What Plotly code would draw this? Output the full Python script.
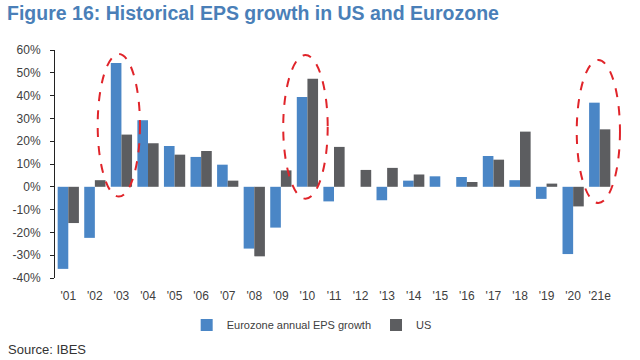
import plotly.graph_objects as go

years = ["'01", "'02", "'03", "'04", "'05", "'06", "'07", "'08", "'09", "'10", "'11",
         "'12", "'13", "'14", "'15", "'16", "'17", "'18", "'19", "'20", "'21e"]
eurozone = [-36, -22.4, 54.3, 29.2, 17.9, 13.1, 9.7, -27.1, -17.9, 39.4, -6.4,
            0, -5.9, 2.7, 4.6, 4.3, 13.5, 2.9, -5.3, -29.5, 36.9]
us = [-15.9, 2.9, 22.9, 19.1, 14.1, 15.7, 2.7, -30.5, 7.2, 47.4, 17.5,
      7.4, 8.3, 5.4, 0, 2.1, 11.9, 24.2, 1.4, -8.6, 25.2]
y_ticks = [-40, -30, -20, -10, 0, 10, 20, 30, 40, 50, 60]

idx = list(range(len(years)))

fig = go.Figure()
fig.add_trace(go.Bar(x=idx, y=eurozone, name="Eurozone annual EPS growth",
                     marker=dict(color="#4a86c6", line=dict(width=0))))
fig.add_trace(go.Bar(x=idx, y=us, name="US",
                     marker=dict(color="#5c5d60", line=dict(width=0))))

y_font = dict(family="Liberation Sans, Arial", size=12, color="#404040")
x_font = dict(family="Liberation Sans Narrow, Arial Narrow, Arial", size=12, color="#404040")

fig.update_layout(
    width=640, height=360,
    margin=dict(l=55, r=27, t=50, b=82),
    paper_bgcolor="white", plot_bgcolor="white",
    barmode="group", bargap=0.2, bargroupgap=0,
    title=dict(text="<b>Figure 16: Historical EPS growth in US and Eurozone</b>",
               x=0.011, xanchor="left", xref="container",
               y=0.982, yanchor="top", yref="container",
               font=dict(family="Liberation Sans, Arial", size=19.5, color="#4a7fb8")),
    xaxis=dict(range=[-0.5, len(years) - 0.5], tickmode="array", tickvals=idx, ticktext=years,
               showgrid=False, zeroline=False, showline=False, ticks="",
               ticklabelstandoff=9, tickfont=x_font),
    xaxis2=dict(overlaying="x", anchor="free", position=0.4,
                range=[-0.5, len(years) - 0.5], tickmode="array",
                tickvals=[i + 0.5 for i in idx[:-1]] + [len(years) - 0.5],
                showticklabels=False, ticks="outside", ticklen=4, tickcolor="#222",
                showline=True, linecolor="#222", linewidth=1, showgrid=False, zeroline=False),
    yaxis=dict(range=[-40, 60], tickmode="array", tickvals=y_ticks,
               ticktext=[f"{v}%" for v in y_ticks], showgrid=False, zeroline=False,
               showline=True, linecolor="#222", linewidth=1, ticks="outside", ticklen=4,
               tickcolor="#222", ticklabelstandoff=7, tickfont=y_font),
    legend=dict(orientation="h", x=0.46, xanchor="center", y=-0.206, yanchor="middle",
                font=dict(family="Liberation Sans, Arial", size=11, color="#404040"),
                itemwidth=30, traceorder="normal"),
    showlegend=True,
)

ellipses = [(0.0765, 0.1523, 0.357, 0.982), (0.409, 0.4887, 0.348, 0.978), (0.935, 1.0125, 0.329, 0.956)]
for x0, x1, y0, y1 in ellipses:
    fig.add_shape(type="circle", xref="paper", yref="paper", x0=x0, x1=x1, y0=y0, y1=y1,
                  line=dict(color="#e0242a", width=2, dash="dash"))

fig.add_annotation(text="Source: IBES", xref="paper", yref="paper", x=-0.088, y=-0.355,
                   xanchor="left", yanchor="bottom", showarrow=False,
                   font=dict(family="Liberation Sans, Arial", size=13, color="#333"))

fig.write_html("out.html", config={"displayModeBar": False},
               post_script="document.body.style.margin='0px';")
